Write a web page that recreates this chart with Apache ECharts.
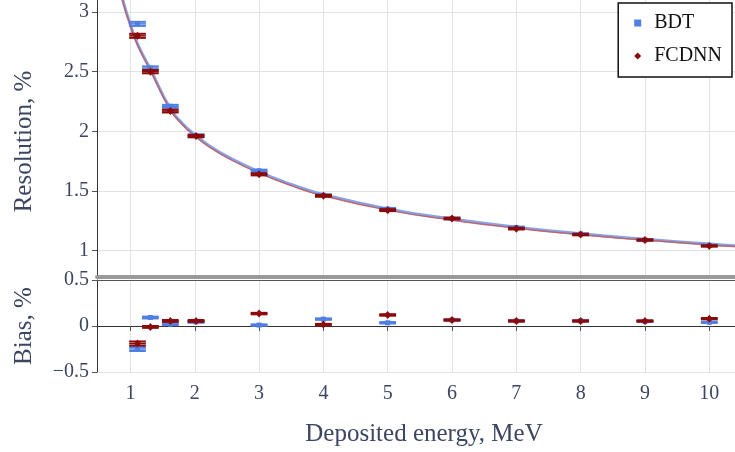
<!DOCTYPE html>
<html>
<head>
<meta charset="utf-8">
<script src="https://cdn.jsdelivr.net/npm/echarts@6/dist/echarts.min.js"></script>
<style>
html, body { margin: 0; padding: 0; background: #fff; }
#chart { width: 735px; height: 452px; }
</style>
</head>
<body>
<div id="chart"></div>
<script>
// deposited energy of the points, MeV
var energy = [1.11, 1.31, 1.62, 2.02, 3, 4, 5, 6, 7, 8, 9, 10];
var energyErr = [0.13, 0.13, 0.13, 0.13, 0.13, 0.13, 0.13, 0.13, 0.13, 0.13, 0.13, 0.13];

// resolution, %
var resBdt = [2.90, 2.53, 2.21, 1.965, 1.67, 1.465, 1.35, 1.27, 1.195, 1.14, 1.09, 1.045];
var resBdtErr = [0.017, 0.014, 0.012, 0.01, 0.009, 0.008, 0.008, 0.007, 0.007, 0.006, 0.006, 0.006];
var resFcdnn = [2.80, 2.50, 2.17, 1.96, 1.64, 1.46, 1.34, 1.27, 1.185, 1.135, 1.09, 1.04];
var resFcdnnErr = [0.017, 0.014, 0.012, 0.01, 0.009, 0.008, 0.008, 0.007, 0.007, 0.006, 0.006, 0.006];

// bias, %
var biasBdt = [-0.25, 0.092, 0.02, 0.045, 0.01, 0.075, 0.035, 0.065, 0.055, 0.055, 0.05, 0.04];
var biasBdtErr = [0.022, 0.01, 0.01, 0.01, 0.008, 0.008, 0.008, 0.007, 0.007, 0.007, 0.007, 0.007];
var biasFcdnn = [-0.19, -0.01, 0.055, 0.055, 0.135, 0.015, 0.12, 0.065, 0.055, 0.055, 0.055, 0.08];
var biasFcdnnErr = [0.022, 0.01, 0.01, 0.01, 0.008, 0.008, 0.008, 0.007, 0.007, 0.007, 0.007, 0.007];

// fitted curves
var curveE = [0.87, 1.0, 1.12, 1.31, 1.62, 1.8, 2.0, 2.25, 2.5, 3, 3.5, 4, 5, 6, 7, 8, 9, 10, 10.4];
var curveBdt = [3.12, 2.89, 2.72, 2.52, 2.19, 2.07, 1.97, 1.87, 1.79, 1.66, 1.555, 1.47, 1.35, 1.265, 1.197, 1.142, 1.096, 1.056, 1.042];
var curveFcdnn = [3.11, 2.88, 2.71, 2.51, 2.18, 2.06, 1.96, 1.86, 1.78, 1.65, 1.545, 1.46, 1.34, 1.256, 1.189, 1.134, 1.089, 1.049, 1.035];

var xTicks = [1, 2, 3, 4, 5, 6, 7, 8, 9, 10];
var resTicks = [1, 1.5, 2, 2.5, 3];

var BLUE = '#4f7fe6';
var RED = '#8b0a0a';
var FONT = 'Liberation Serif';
var TXT = '#3c4663';

function zip(a, b, c, d) {
    var out = [];
    for (var i = 0; i < a.length; i++) {
        out.push(c ? [a[i], b[i], c[i], d[i]] : [a[i], b[i]]);
    }
    return out;
}

// error bar with caps + horizontal bar + marker
function errorBars(color, marker) {
    return function (params, api) {
        var x = api.value(0), y = api.value(1), ey = api.value(2), ex = api.value(3);
        var c = api.coord([x, y]);
        var top = api.coord([x, y + ey]);
        var bot = api.coord([x, y - ey]);
        var left = api.coord([x - ex, y]);
        var right = api.coord([x + ex, y]);
        var st = { stroke: color, lineWidth: 2 };
        var kids = [
            { type: 'line', shape: { x1: c[0], y1: top[1], x2: c[0], y2: bot[1] }, style: st },
            { type: 'line', shape: { x1: left[0], y1: top[1], x2: right[0], y2: top[1] }, style: st },
            { type: 'line', shape: { x1: left[0], y1: bot[1], x2: right[0], y2: bot[1] }, style: st },
            { type: 'line', shape: { x1: left[0], y1: c[1], x2: right[0], y2: c[1] }, style: { stroke: color, lineWidth: 1.5 } }
        ];
        if (marker === 'diamond') {
            kids.push({ type: 'polygon', shape: { points: [[c[0], c[1] - 4], [c[0] + 3.5, c[1]], [c[0], c[1] + 4], [c[0] - 3.5, c[1]]] }, style: { fill: color } });
        } else {
            kids.push({ type: 'rect', shape: { x: c[0] - 2.5, y: c[1] - 2.5, width: 5, height: 5 }, style: { fill: color } });
        }
        return { type: 'group', children: kids };
    };
}

var chart = echarts.init(document.getElementById('chart'));

var option = {
    animation: false,
    backgroundColor: '#fff',
    textStyle: { fontFamily: FONT },
    legend: {
        data: [
            { name: 'BDT', icon: 'rect' },
            { name: 'FCDNN', icon: 'diamond' }
        ],
        orient: 'vertical',
        right: 3,
        top: 3,
        padding: [10, 10, 11, 16],
        itemGap: 13,
        itemWidth: 7,
        itemHeight: 7,
        backgroundColor: '#fff',
        borderColor: '#111',
        borderWidth: 1.5,
        textStyle: { fontFamily: FONT, fontSize: 20, color: '#111', padding: [0, 0, 0, 8] },
        selectedMode: false,
        z: 10
    },
    grid: [
        { left: 97, right: 0, top: 0, height: 277, containLabel: false, outerBoundsMode: 'none' },
        { left: 97, right: 0, top: 280, height: 92, containLabel: false, outerBoundsMode: 'none' }
    ],
    xAxis: [
        {
            type: 'value', gridIndex: 0, min: 0.48, max: 10.4,
            axisLine: { show: true, lineStyle: { color: '#9a9a9a', width: 4 } },
            axisTick: { show: false, customValues: xTicks },
            axisLabel: { show: false, customValues: xTicks },
            splitLine: { show: true, lineStyle: { color: '#e2e2e2' } }
        },
        {
            type: 'value', gridIndex: 1, min: 0.48, max: 10.4,
            name: 'Deposited energy, MeV', nameLocation: 'middle', nameGap: 50,
            nameTextStyle: { fontFamily: FONT, fontSize: 25, color: TXT, padding: [0, 0, 0, 16] },
            axisLine: { show: true, lineStyle: { color: '#333' } },
            axisTick: { show: true, length: 5, customValues: xTicks, lineStyle: { color: '#555' } },
            axisLabel: { customValues: xTicks, fontFamily: FONT, fontSize: 20, color: TXT, margin: 12 },
            splitLine: { show: true, lineStyle: { color: '#e2e2e2' } }
        },
        {
            type: 'value', gridIndex: 1, min: 0.48, max: 10.4, position: 'top',
            axisLine: { show: true, lineStyle: { color: '#555' } },
            axisTick: { show: false, customValues: xTicks },
            axisLabel: { show: false },
            splitLine: { show: false }
        }
    ],
    yAxis: [
        {
            type: 'value', gridIndex: 0, min: 0.78, max: 3.1,
            name: 'Resolution, %', nameLocation: 'middle', nameGap: 60, nameRotate: 90,
            nameTextStyle: { fontFamily: FONT, fontSize: 25, color: TXT, padding: [0, 6, 0, 0] },
            axisLine: { show: true, lineStyle: { color: '#333' } },
            axisTick: { show: true, length: 5, customValues: resTicks, lineStyle: { color: '#555' } },
            axisLabel: { customValues: resTicks, fontFamily: FONT, fontSize: 20, color: TXT, margin: 8 },
            splitLine: { show: true, lineStyle: { color: '#e2e2e2' } }
        },
        {
            type: 'value', gridIndex: 1, min: -0.5, max: 0.5, interval: 0.5,
            name: 'Bias, %', nameLocation: 'middle', nameGap: 60, nameRotate: 90,
            nameTextStyle: { fontFamily: FONT, fontSize: 25, color: TXT },
            axisLine: { show: true, lineStyle: { color: '#333' } },
            axisTick: { show: true, length: 5, lineStyle: { color: '#555' } },
            axisLabel: {
                fontFamily: FONT, fontSize: 20, color: TXT, margin: 8,
                formatter: function (v) { return String(v).replace('-', '\u2212'); }
            },
            splitLine: { show: true, lineStyle: { color: '#e2e2e2' } }
        }
    ],
    series: [
        {
            name: 'BDT fit', type: 'line', xAxisIndex: 0, yAxisIndex: 0,
            data: zip(curveE, curveBdt), smooth: true, showSymbol: false, silent: true,
            lineStyle: { color: '#86a3e8', width: 3 }, z: 2
        },
        {
            name: 'FCDNN fit', type: 'line', xAxisIndex: 0, yAxisIndex: 0,
            data: zip(curveE, curveFcdnn), smooth: true, showSymbol: false, silent: true,
            lineStyle: { color: '#c45a5a', width: 1.5, opacity: 0.85 }, z: 3
        },
        {
            name: 'BDT', type: 'custom', xAxisIndex: 0, yAxisIndex: 0,
            itemStyle: { color: BLUE }, clip: true, z: 4,
            renderItem: errorBars(BLUE, 'rect'),
            data: zip(energy, resBdt, resBdtErr, energyErr)
        },
        {
            name: 'FCDNN', type: 'custom', xAxisIndex: 0, yAxisIndex: 0,
            itemStyle: { color: RED }, clip: true, z: 5,
            renderItem: errorBars(RED, 'diamond'),
            data: zip(energy, resFcdnn, resFcdnnErr, energyErr)
        },
        {
            name: 'BDT', type: 'custom', xAxisIndex: 1, yAxisIndex: 1,
            itemStyle: { color: BLUE }, clip: true, z: 4,
            renderItem: errorBars(BLUE, 'rect'),
            data: zip(energy, biasBdt, biasBdtErr, energyErr)
        },
        {
            name: 'FCDNN', type: 'custom', xAxisIndex: 1, yAxisIndex: 1,
            itemStyle: { color: RED }, clip: true, z: 5,
            renderItem: errorBars(RED, 'diamond'),
            data: zip(energy, biasFcdnn, biasFcdnnErr, energyErr)
        }
    ]
};

chart.setOption(option);
</script>
</body>
</html>
